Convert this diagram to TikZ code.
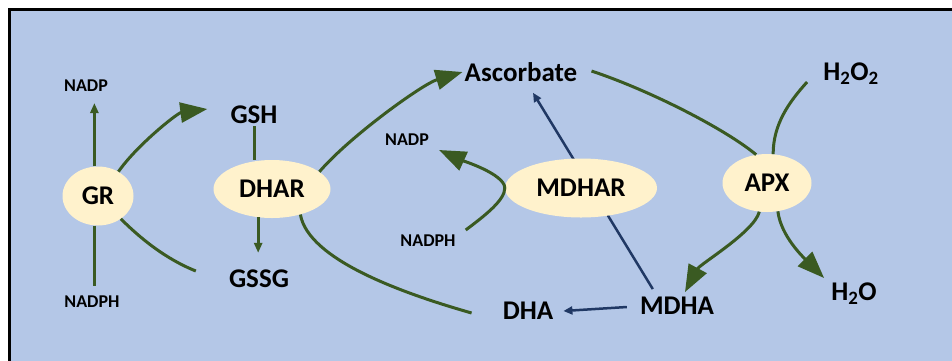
\documentclass[tikz,border=0pt]{standalone}
\usepackage{fontspec}
\setmainfont{Carlito}
\usetikzlibrary{arrows.meta, shapes.geometric}

\definecolor{panelblue}{HTML}{B4C7E7}
\definecolor{enzfill}{HTML}{FFF2CC}
\definecolor{leafgreen}{HTML}{3A5A22}
\definecolor{navy}{HTML}{203864}

\begin{document}
\begin{tikzpicture}[x=1pt, y=-1pt,
    enzyme/.style={ellipse, fill=enzfill, inner sep=0pt, font=\bfseries\fontsize{27}{30}\selectfont},
    metab/.style={inner sep=2pt, font=\bfseries\fontsize{27}{30}\selectfont},
    cofactor/.style={inner sep=2pt, font=\bfseries\fontsize{18}{20}\selectfont},
    flow/.style={leafgreen, line width=3pt},
    big_arrow/.style={flow, -{Triangle[length=27pt, width=20pt]}},
    small_arrow/.style={flow, -{Triangle[length=10pt, width=8pt]}},
    blue_arrow/.style={navy, line width=2.5pt, -{Triangle[length=9pt, width=8pt]}}
]

% Panel
\path[use as bounding box] (0,0) rectangle (952,360);
\begin{scope}
\clip (0,0) rectangle (952,360);
\draw[fill=panelblue, line width=2.5pt] (9.5,9.5) rectangle (965,375);
\end{scope}

% Metabolites and cofactors
\node[cofactor] (nadpA) at (86,86) {NADP};
\node[cofactor] (nadphA) at (92,302) {NADPH};
\node[metab] (gsh) at (254,115) {GSH};
\node[metab] (gssg) at (259,279) {GSSG};
\node[metab] (asc) at (521,72) {Ascorbate};
\node[cofactor] (nadpB) at (407,140) {NADP};
\node[cofactor] (nadphB) at (428,241) {NADPH};
\node[metab] (dha) at (528,311) {DHA};
\node[metab] (mdha) at (677,306) {MDHA};
\node[metab] (h2o2) at (851,74) {H\textsubscript{2}O\textsubscript{2}};
\node[metab] (h2o) at (854,294) {H\textsubscript{2}O};

% MDHA goes back to ascorbate and on to DHA
\draw[blue_arrow] ([shift={(15,-6)}]mdha.north west) -- ([shift={(12,9)}]asc.south);
\draw[blue_arrow] ([shift={(-11,1)}]mdha.west) -- ([shift={(8,0)}]dha.east);

% Enzymes
\node[enzyme, minimum width=71pt, minimum height=59pt] (gr) at (98,196) {GR};
\node[enzyme, minimum width=117pt, minimum height=58pt] (dhar) at (272,189) {DHAR};
\node[enzyme, minimum width=152pt, minimum height=59pt] (mdhar) at (581,188) {MDHAR};
\node[enzyme, minimum width=89pt, minimum height=58pt] (apx) at (767,183) {APX};

% Glutathione reductase
\draw[small_arrow, shorten >=9pt] (gr.97) -- (gr.97 |- nadpA.south);
\draw[flow, shorten >=8pt] (gr.-97) -- (gr.-97 |- nadphA.north);
\draw[big_arrow] (gr.50) .. controls +(18,-26) and +(-30,4) .. ([shift={(-21,-6)}]gsh.west);
\draw[flow] (gr.-45) .. controls +(20,20) and +(-30,-12) .. ([shift={(-31,-8)}]gssg.west);

% DHAR
\draw[flow] (gsh.south) -- (gsh.south |- dhar.north);
\draw[small_arrow, shorten >=15pt] (dhar.-116) -- (dhar.-116 |- gssg.north);
\draw[big_arrow] (dhar.20) .. controls +(30,-35) and +(-40,12) .. (asc.west);
\draw[flow] (dhar.-42) .. controls +(8,45) and +(-70,-20) .. ([shift={(-29,2)}]dha.west);

% MDHAR
\draw[big_arrow] ([shift={(8,-11)}]nadphB.east) .. controls +(20,-15) and +(0,12) .. (mdhar.west)
    .. controls +(0,-14) and +(22,10) .. ([shift={(8,10)}]nadpB.east);

% APX
\draw[flow] ([shift={(12,-1)}]asc.east) .. controls +(60,20) and +(-30,-25) .. (apx.111);
\draw[flow] ([shift={(-14,8)}]h2o2.west) .. controls +(-18,20) and +(0,-30) .. (apx.78);
\draw[big_arrow] (apx.-105) .. controls +(-5,20) and +(15,-28) .. ([shift={(8,-3)}]mdha.north);
\draw[big_arrow] (apx.-69) .. controls +(3,25) and +(-20,-20) .. ([shift={(-5,-3)}]h2o.north west);

\end{tikzpicture}
\end{document}
